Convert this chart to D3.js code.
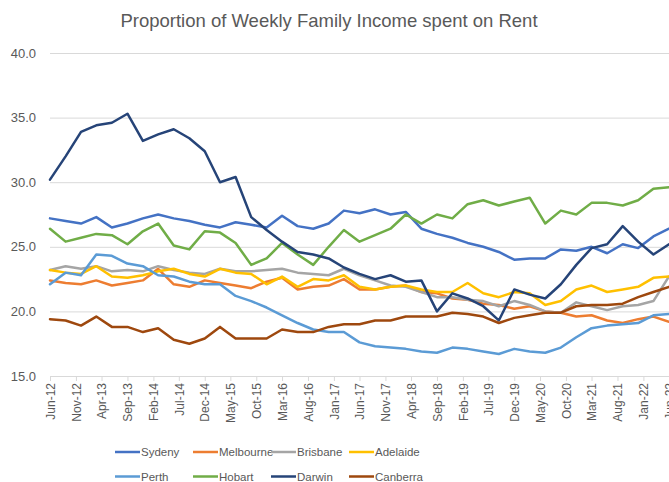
<!DOCTYPE html>
<html>
<head>
<meta charset="utf-8">
<script src="https://cdn.jsdelivr.net/npm/d3@7"></script>
<style>
  body { margin: 0; background: #fff; }
  #chart { width: 669px; height: 482px; }
  text { font-family: 'Liberation Sans', Arial, sans-serif; fill: #595959; }
</style>
</head>
<body>
<div id="chart"></div>
<script>
const title = 'Proportion of Weekly Family Income spent on Rent';

const quarters = [
    'Jun-12', 'Sep-12', 'Dec-12', 'Mar-13', 'Jun-13', 'Sep-13', 'Dec-13', 'Mar-14', 'Jun-14',
    'Sep-14', 'Dec-14', 'Mar-15', 'Jun-15', 'Sep-15', 'Dec-15', 'Mar-16', 'Jun-16', 'Sep-16',
    'Dec-16', 'Mar-17', 'Jun-17', 'Sep-17', 'Dec-17', 'Mar-18', 'Jun-18', 'Sep-18', 'Dec-18',
    'Mar-19', 'Jun-19', 'Sep-19', 'Dec-19', 'Mar-20', 'Jun-20', 'Sep-20', 'Dec-20', 'Mar-21',
    'Jun-21', 'Sep-21', 'Dec-21', 'Mar-22', 'Jun-22'
];

const xTickLabels = [
    'Jun-12', 'Nov-12', 'Apr-13', 'Sep-13', 'Feb-14', 'Jul-14', 'Dec-14', 'May-15', 'Oct-15',
    'Mar-16', 'Aug-16', 'Jan-17', 'Jun-17', 'Nov-17', 'Apr-18', 'Sep-18', 'Feb-19', 'Jul-19',
    'Dec-19', 'May-20', 'Oct-20', 'Mar-21', 'Aug-21', 'Jan-22', 'Jun-22'
];

const yTicks = [15, 20, 25, 30, 35, 40];

const cities = ['Sydeny', 'Melbourne', 'Brisbane', 'Adelaide', 'Perth', 'Hobart', 'Darwin', 'Canberra'];
const cityColors = ['#4472C4', '#ED7D31', '#A5A5A5', '#FFC000', '#5B9BD5', '#70AD47', '#264478', '#9E480E'];

const sydney = [27.2, 27.0, 26.8, 27.3, 26.5, 26.8, 27.2, 27.5, 27.2, 27.0, 26.7, 26.5, 26.9, 26.7,
    26.5, 27.4, 26.6, 26.4, 26.8, 27.8, 27.6, 27.9, 27.5, 27.7, 26.4, 26.0, 25.7, 25.3, 25.0, 24.6,
    24.0, 24.1, 24.1, 24.8, 24.7, 25.0, 24.5, 25.2, 24.9, 25.8, 26.4];
const melbourne = [22.4, 22.2, 22.1, 22.4, 22.0, 22.2, 22.4, 23.3, 22.1, 21.9, 22.4, 22.2, 22.0, 21.8,
    22.3, 22.6, 21.7, 21.9, 22.0, 22.5, 21.7, 21.7, 21.9, 22.0, 21.5, 21.4, 21.0, 20.9, 20.6, 20.5,
    20.2, 20.4, 20.0, 19.9, 19.6, 19.7, 19.3, 19.1, 19.4, 19.6, 19.2];
const brisbane = [23.2, 23.5, 23.3, 23.5, 23.1, 23.2, 23.1, 23.5, 23.2, 23.0, 22.9, 23.3, 23.1, 23.1,
    23.2, 23.3, 23.0, 22.9, 22.8, 23.3, 22.8, 22.4, 22.0, 21.9, 21.5, 21.1, 21.1, 20.9, 20.8, 20.4,
    20.8, 20.5, 20.0, 19.9, 20.7, 20.4, 20.1, 20.4, 20.5, 20.8, 22.7];
const adelaide = [23.2, 23.0, 22.9, 23.5, 22.7, 22.6, 22.8, 23.1, 23.3, 22.9, 22.7, 23.3, 23.0, 22.9,
    22.1, 22.7, 21.9, 22.5, 22.4, 22.8, 21.9, 21.7, 21.9, 22.0, 21.7, 21.5, 21.5, 22.2, 21.4, 21.1,
    21.5, 21.4, 20.5, 20.8, 21.7, 22.0, 21.5, 21.7, 21.9, 22.6, 22.7];
const perth = [22.1, 23.0, 22.8, 24.4, 24.3, 23.7, 23.5, 22.8, 22.7, 22.3, 22.1, 22.1, 21.2, 20.8,
    20.3, 19.7, 19.1, 18.6, 18.4, 18.4, 17.6, 17.3, 17.2, 17.1, 16.9, 16.8, 17.2, 17.1, 16.9, 16.7,
    17.1, 16.9, 16.8, 17.2, 18.0, 18.7, 18.9, 19.0, 19.1, 19.7, 19.8];
const hobart = [26.4, 25.4, 25.7, 26.0, 25.9, 25.2, 26.2, 26.8, 25.1, 24.8, 26.2, 26.1, 25.3, 23.6,
    24.1, 25.3, 24.4, 23.6, 25.0, 26.3, 25.4, 25.9, 26.4, 27.5, 26.8, 27.5, 27.2, 28.3, 28.6, 28.2,
    28.5, 28.8, 26.8, 27.8, 27.5, 28.4, 28.4, 28.2, 28.6, 29.5, 29.6];
const darwin = [30.2, 32.0, 33.9, 34.4, 34.6, 35.3, 33.2, 33.7, 34.1, 33.4, 32.4, 30.0, 30.4, 27.3,
    26.3, 25.4, 24.6, 24.4, 24.1, 23.4, 22.9, 22.5, 22.8, 22.3, 22.4, 20.0, 21.4, 21.0, 20.4, 19.3,
    21.7, 21.3, 21.0, 22.1, 23.6, 24.9, 25.2, 26.6, 25.4, 24.4, 25.2];
const canberra = [19.4, 19.3, 18.9, 19.6, 18.8, 18.8, 18.4, 18.7, 17.8, 17.5, 17.9, 18.8, 17.9, 17.9,
    17.9, 18.6, 18.4, 18.4, 18.8, 19.0, 19.0, 19.3, 19.3, 19.6, 19.6, 19.6, 19.9, 19.8, 19.6, 19.1,
    19.5, 19.7, 19.9, 19.9, 20.4, 20.5, 20.5, 20.6, 21.1, 21.5, 21.9];

const seriesValues = [sydney, melbourne, brisbane, adelaide, perth, hobart, darwin, canberra];

class LineChart {

    constructor(opts) {
        this.element = opts.element;
        this.series = opts.series;
        this.dates = opts.dates;
        this.draw();
    }

    draw() {
        this.width = 669;
        this.height = 482;
        this.margin = { top: 53, right: 0, bottom: 106, left: 50 };

        const svg = d3.select(this.element).append('svg')
            .attr('width', this.width)
            .attr('height', this.height);
        this.svg = svg;

        svg.append('text')
            .attr('x', 329)
            .attr('y', 27)
            .attr('text-anchor', 'middle')
            .attr('font-size', '18.5px')
            .text(title);

        this.createScales();
        this.addAxes();
        this.addLines();
        this.addLegend();
    }

    createScales() {
        const parseMonth = d3.timeParse('%b-%y');
        this.parseMonth = parseMonth;

        this.xScale = d3.scaleTime()
            .domain([parseMonth(quarters[0]), parseMonth(quarters[quarters.length - 1])])
            .range([this.margin.left, this.width - this.margin.right]);

        this.yScale = d3.scaleLinear()
            .domain([15, 40])
            .range([this.height - this.margin.bottom, this.margin.top]);
    }

    addAxes() {
        const plotW = this.width - this.margin.left - this.margin.right;

        // gridlines + labels
        const yAxis = d3.axisLeft(this.yScale)
            .tickValues(yTicks)
            .tickFormat(d3.format('.1f'))
            .tickSize(-plotW)
            .tickPadding(14);

        const gy = this.svg.append('g')
            .attr('transform', `translate(${this.margin.left},0)`)
            .call(yAxis);
        gy.select('.domain').remove();
        gy.selectAll('line').attr('stroke', '#D9D9D9').attr('stroke-width', 1);
        gy.selectAll('text').attr('font-size', '13px').attr('font-family', null).attr('fill', '#595959');

        const xAxis = d3.axisBottom(this.xScale)
            .tickValues(xTickLabels.map(this.parseMonth))
            .tickFormat((d, i) => xTickLabels[i])
            .tickSizeInner(5)
            .tickSizeOuter(0);

        const gx = this.svg.append('g')
            .attr('transform', `translate(0,${this.yScale(15)})`)
            .call(xAxis);
        gx.select('.domain').attr('stroke', '#D9D9D9');
        gx.selectAll('line').attr('stroke', '#D9D9D9');
        gx.selectAll('text')
            .attr('font-size', '12px')
            .attr('font-family', null)
            .attr('fill', '#595959')
            .attr('y', 0)
            .attr('x', -7)
            .attr('dy', '0.35em')
            .attr('transform', 'rotate(-90)')
            .style('text-anchor', 'end');
    }

    addLines() {
        const line = d3.line()
            .x((d, i) => this.xScale(this.dates[i]))
            .y(d => this.yScale(d));

        this.svg.append('g')
            .selectAll('path')
            .data(this.series)
            .enter()
            .append('path')
            .attr('fill', 'none')
            .attr('stroke', d => d.color)
            .attr('stroke-width', 2.5)
            .attr('stroke-linejoin', 'round')
            .attr('stroke-linecap', 'round')
            .attr('d', d => line(d.values));
    }

    addLegend() {
        const legend = this.svg.append('g');
        const items = legend.selectAll('.legend-item')
            .data(this.series)
            .enter()
            .append('g')
            .classed('legend-item', true)
            .attr('transform', (d, i) => `translate(${115 + (i % 4) * 78},${452 + Math.floor(i / 4) * 24.5})`);

        items.append('line')
            .attr('x1', 0)
            .attr('x2', 25)
            .attr('stroke', d => d.color)
            .attr('stroke-width', 2.5);

        items.append('text')
            .attr('x', 26)
            .attr('dy', '0.35em')
            .attr('font-size', '11.5px')
            .text(d => d.name);
    }
}

const series = cities.map((name, i) => ({ name, color: cityColors[i], values: seriesValues[i] }));
const parseQ = d3.timeParse('%b-%y');

new LineChart({
    element: document.getElementById('chart'),
    series: series,
    dates: quarters.map(parseQ)
});
</script>
</body>
</html>
